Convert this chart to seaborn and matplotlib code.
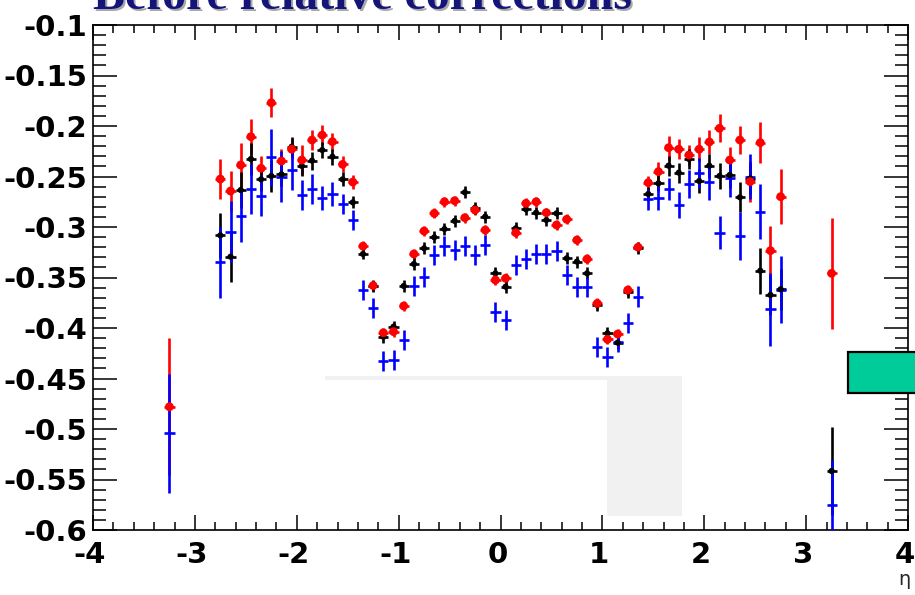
import numpy as np
import pandas as pd
import matplotlib
matplotlib.use("Agg")
import matplotlib.pyplot as plt
from matplotlib.patches import Rectangle
from matplotlib.ticker import MultipleLocator
from matplotlib.transforms import ScaledTranslation
import seaborn as sns

# eta bin centres (HF bins at +-3.25)
eta = [-3.25,
       -2.75, -2.65, -2.55, -2.45, -2.35, -2.25, -2.15, -2.05, -1.95, -1.85,
       -1.75, -1.65, -1.55, -1.45, -1.35, -1.25, -1.15, -1.05, -0.95, -0.85,
       -0.75, -0.65, -0.55, -0.45, -0.35, -0.25, -0.15, -0.05, 0.05, 0.15,
       0.25, 0.35, 0.45, 0.55, 0.65, 0.75, 0.85, 0.95, 1.05, 1.15,
       1.25, 1.35, 1.45, 1.55, 1.65, 1.75, 1.85, 1.95, 2.05, 2.15,
       2.25, 2.35, 2.45, 2.55, 2.65, 2.75,
       3.25]

red_y = [-0.478,
         -0.2525, -0.2644, -0.2386, -0.2106, -0.2419, -0.1770, -0.2347, -0.2230, -0.2337, -0.2139,
         -0.2090, -0.2155, -0.2380, -0.2555, -0.3190, -0.3580, -0.4047, -0.4036, -0.3782, -0.3267,
         -0.3040, -0.2865, -0.2750, -0.2740, -0.2908, -0.2832, -0.3030, -0.3525, -0.3508, -0.3056,
         -0.2766, -0.2750, -0.2858, -0.2980, -0.2924, -0.3129, -0.3317, -0.3756, -0.4112, -0.4060,
         -0.3624, -0.3200, -0.2561, -0.2452, -0.2215, -0.2230, -0.2287, -0.2230, -0.2158, -0.2023,
         -0.2337, -0.2139, -0.2551, -0.2165, -0.3234, -0.2700,
         -0.3459]
red_err = [0.068,
           0.020, 0.020, 0.022, 0.018, 0.012, 0.0145, 0.012, 0.010, 0.015, 0.010,
           0.010, 0.009, 0.008, 0.007, 0.005, 0.005, 0.005, 0.005, 0.005, 0.005,
           0.005, 0.005, 0.005, 0.005, 0.005, 0.005, 0.005, 0.005, 0.005, 0.005,
           0.005, 0.005, 0.005, 0.005, 0.005, 0.005, 0.005, 0.005, 0.005, 0.005,
           0.005, 0.005, 0.007, 0.010, 0.012, 0.010, 0.010, 0.012, 0.012, 0.014,
           0.013, 0.014, 0.020, 0.020, 0.024, 0.027,
           0.055]

black_y = [np.nan,
           -0.3083, -0.3294, -0.2634, -0.2327, -0.2528, -0.2495, -0.2479, -0.2205, -0.2396, -0.2343,
           -0.2238, -0.2304, -0.2528, -0.2756, -0.3267, -0.3580, -0.4086, -0.3987, -0.3584, -0.3366,
           -0.3211, -0.3102, -0.3020, -0.2940, -0.2657, -0.2810, -0.2897, -0.3459, -0.3591, -0.3013,
           -0.2825, -0.2858, -0.2931, -0.2865, -0.3310, -0.3343, -0.3459, -0.3772, -0.4053, -0.4145,
           -0.3640, -0.3205, -0.2673, -0.2568, -0.2393, -0.2462, -0.2327, -0.2545, -0.2393, -0.2495,
           -0.2485, -0.2706, -0.2520, -0.3433, -0.3673, -0.3617,
           -0.5416]
black_err = [np.nan,
             0.022, 0.025, 0.018, 0.016, 0.012, 0.016, 0.012, 0.010, 0.010, 0.009,
             0.008, 0.008, 0.007, 0.006, 0.005, 0.006, 0.006, 0.006, 0.006, 0.006,
             0.006, 0.006, 0.006, 0.006, 0.006, 0.006, 0.006, 0.006, 0.006, 0.006,
             0.006, 0.006, 0.006, 0.006, 0.006, 0.006, 0.006, 0.006, 0.006, 0.006,
             0.006, 0.006, 0.007, 0.008, 0.010, 0.010, 0.010, 0.012, 0.012, 0.013,
             0.013, 0.015, 0.015, 0.023, 0.020, 0.020,
             0.044]

blue_y = [-0.5043,
          -0.3350, -0.3046, -0.2888, -0.2624, -0.2690, -0.2310, -0.2502, -0.2436, -0.2683, -0.2624,
          -0.2710, -0.2670, -0.2774, -0.2931, -0.3624, -0.3805, -0.4327, -0.4317, -0.4119, -0.3581,
          -0.3498, -0.3277, -0.3188, -0.3228, -0.3188, -0.3277, -0.3178, -0.3838, -0.3921, -0.3376,
          -0.3320, -0.3267, -0.3270, -0.3234, -0.3475, -0.3591, -0.3591, -0.4190, -0.4284, -0.4135,
          -0.3954, -0.3689, -0.2727, -0.2710, -0.2627, -0.2782, -0.2574, -0.2462, -0.2551, -0.3056,
          -0.2512, -0.3089, -0.2502, -0.2848, -0.3815, -0.3620,
          -0.5752]
blue_err = [0.059,
            0.035, 0.030, 0.026, 0.025, 0.020, 0.028, 0.025, 0.020, 0.015, 0.015,
            0.012, 0.012, 0.010, 0.010, 0.010, 0.010, 0.010, 0.010, 0.010, 0.010,
            0.010, 0.010, 0.010, 0.010, 0.010, 0.010, 0.010, 0.010, 0.010, 0.010,
            0.010, 0.010, 0.010, 0.010, 0.010, 0.010, 0.010, 0.010, 0.010, 0.010,
            0.010, 0.010, 0.010, 0.012, 0.011, 0.013, 0.014, 0.015, 0.018, 0.016,
            0.019, 0.024, 0.022, 0.027, 0.036, 0.033,
            0.045]

xticks = [-4, -3, -2, -1, 0, 1, 2, 3, 4]
xtick_labels = ["-4", "-3", "-2", "-1", "0", "1", "2", "3", "4"]
yticks = [-0.6, -0.55, -0.5, -0.45, -0.4, -0.35, -0.3, -0.25, -0.2, -0.15, -0.1]
ytick_labels = ["-0.6", "-0.55", "-0.5", "-0.45", "-0.4", "-0.35", "-0.3",
                "-0.25", "-0.2", "-0.15", "-0.1"]

sns.set_style("ticks")
plt.rcParams["font.family"] = ["DejaVu Sans"]
plt.rcParams["axes.unicode_minus"] = False

W, H = 915, 595
fig = plt.figure(figsize=(W / 100, H / 100), dpi=100)
fig.patch.set_facecolor("white")
ax = fig.add_axes([93 / W, 1 - 530 / H, (908 - 93) / W, (530 - 25) / H])
ax.set_facecolor("white")
ax.set_xlim(-4, 4)
ax.set_ylim(-0.6, -0.1)

# light grey leftover frame inside the pad
ax.add_patch(Rectangle((-1.72, -0.4515), 3.50, 0.0035, facecolor="#f1f1f1",
                       edgecolor="none", zorder=0.5))
ax.add_patch(Rectangle((1.05, -0.586), 0.73, 0.1375, facecolor="#f1f1f1",
                       edgecolor="none", zorder=0.5))

df = pd.DataFrame({"eta": eta, "red": red_y, "red_err": red_err,
                   "black": black_y, "black_err": black_err,
                   "blue": blue_y, "blue_err": blue_err})

series = [("red", "#ff0000", 2), ("black", "#000000", 3), ("blue", "#0000ff", 4)]
for name, col, z in series:
    ax.errorbar(df["eta"], df[name], yerr=df[name + "_err"], xerr=0.05,
                fmt="none", ecolor=col, elinewidth=1.9, capsize=0, zorder=z)

sns.scatterplot(data=df, x="eta", y="black", color="#000000", s=20,
                marker="o", edgecolor="none", ax=ax, zorder=5, legend=False)
sns.scatterplot(data=df, x="eta", y="red", color="#ff0000", s=40,
                marker="o", edgecolor="none", ax=ax, zorder=6, legend=False)

ax.set_xlabel("")
ax.set_ylabel("")

# axis ticks in ROOT style: inward on all four sides
tick_fs = 21
ax.set_xticks(xticks, xtick_labels, fontsize=tick_fs, fontweight="bold")
ax.xaxis.set_minor_locator(MultipleLocator(0.2))
ax.set_yticks(yticks, ytick_labels, fontsize=tick_fs, fontweight="bold")
ax.yaxis.set_minor_locator(MultipleLocator(0.01))
ax.tick_params(axis="both", which="both", direction="in", top=True, right=True,
               colors="black", width=1.1, labelsize=tick_fs)
ax.tick_params(axis="x", which="major", length=11, pad=8)
ax.tick_params(axis="x", which="minor", length=5.5)
ax.tick_params(axis="y", which="major", length=17, pad=4)
ax.tick_params(axis="y", which="minor", length=9.5)
shift = ScaledTranslation(-3 / 100, 0, fig.dpi_scale_trans)
for lab in ax.get_xticklabels():
    lab.set_transform(lab.get_transform() + shift)
for sp in ax.spines.values():
    sp.set_visible(True)
    sp.set_color("black")
    sp.set_linewidth(1.2)

# stats-box remnant sticking out of the frame at the right
ax.add_patch(Rectangle((3.41, -0.4644), 0.9, 0.0406, facecolor="#00cc99",
                       edgecolor="black", linewidth=1.6, clip_on=False, zorder=10))

# title with drop shadow
tx, ty = 93 / W, 1 - 9 / H
fig.text(tx + 2 / W, ty - 2 / H, "Before relative corrections", fontsize=34.4,
         family="Liberation Serif", weight="bold", color="#a8a8a8", va="baseline")
fig.text(tx, ty, "Before relative corrections", fontsize=34.4,
         family="Liberation Serif", weight="bold", color="#14147a", va="baseline")

fig.text(910 / W, 1 - 585 / H, "η", fontsize=14, ha="right", va="baseline")

fig.savefig("out.png", dpi=100)
